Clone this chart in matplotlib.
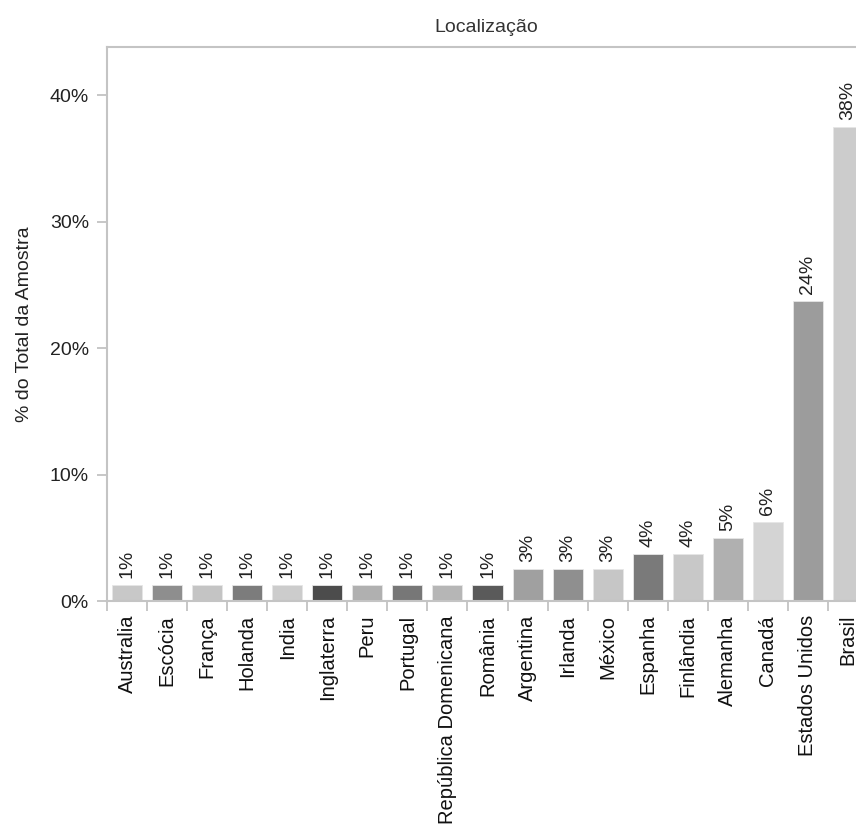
import numpy as np
import matplotlib
matplotlib.use("Agg")
import matplotlib.pyplot as plt

plt.rcParams['font.family'] = ['Liberation Sans', 'DejaVu Sans']

paises = ["Australia", "Escócia", "França", "Holanda", "India", "Inglaterra",
          "Peru", "Portugal", "República Domenicana", "România", "Argentina",
          "Irlanda", "México", "Espanha", "Finlândia", "Alemanha", "Canadá",
          "Estados Unidos", "Brasil"]
percentual = [1.25, 1.25, 1.25, 1.25, 1.25, 1.25, 1.25, 1.25, 1.25, 1.25,
              2.5, 2.5, 2.5, 3.75, 3.75, 5.0, 6.25, 23.75, 37.5]
rotulos = ["1%"] * 10 + ["3%", "3%", "3%", "4%", "4%", "5%", "6%", "24%", "38%"]
cores = ["#c8c8c8", "#8e8e8e", "#c4c4c4", "#7c7c7c", "#cccccc", "#4c4c4c",
         "#b0b0b0", "#777777", "#b6b6b6", "#5a5a5a", "#a0a0a0", "#8f8f8f",
         "#c6c6c6", "#7a7a7a", "#c8c8c8", "#b0b0b0", "#d4d4d4", "#9c9c9c",
         "#cccccc"]

fig = plt.figure(figsize=(8.56, 8.32), dpi=100)
ax = fig.add_axes([107/856, 1 - 601/832, 1 - 107/856, (601 - 47)/832])

x = np.arange(len(paises))
ax.bar(x, percentual, width=0.75, color=cores, edgecolor="#e6e6e6", linewidth=0.6)

for xi, v, r in zip(x, percentual, rotulos):
    ax.text(xi, v + 0.55, r, rotation=90, ha="center", va="bottom",
            fontsize=14, color="#222222")

ax.set_xlim(-0.5, 18.2)
ax.set_ylim(0, 43.8)

ax.set_yticks([0, 10, 20, 30, 40])
ax.set_yticklabels(["0%", "10%", "20%", "30%", "40%"])
ax.set_xticks(x)
ax.set_xticklabels(paises, rotation=90, fontsize=14.5, color="#111111")
ax.set_xticks(np.arange(-0.5, len(paises) - 1, 1), minor=True)
ax.tick_params(axis="x", which="major", length=0, pad=10)
ax.tick_params(axis="x", which="minor", length=7, color="#bdbdbd", width=1.2)
ax.tick_params(axis="y", length=7, color="#bdbdbd", width=1.2, pad=6,
               labelsize=14, labelcolor="#222222")

for s in ["left", "bottom", "top"]:
    ax.spines[s].set_color("#c4c4c4")
    ax.spines[s].set_linewidth(1.5)
ax.spines["right"].set_visible(False)

ax.set_ylabel("% do Total da Amostra", fontsize=14, color="#222222", labelpad=12)
fig.text(486/856, 1 - 27/832, "Localização", ha="center", va="center",
         fontsize=14, color="#333333")

fig.savefig("out.png", dpi=100)
